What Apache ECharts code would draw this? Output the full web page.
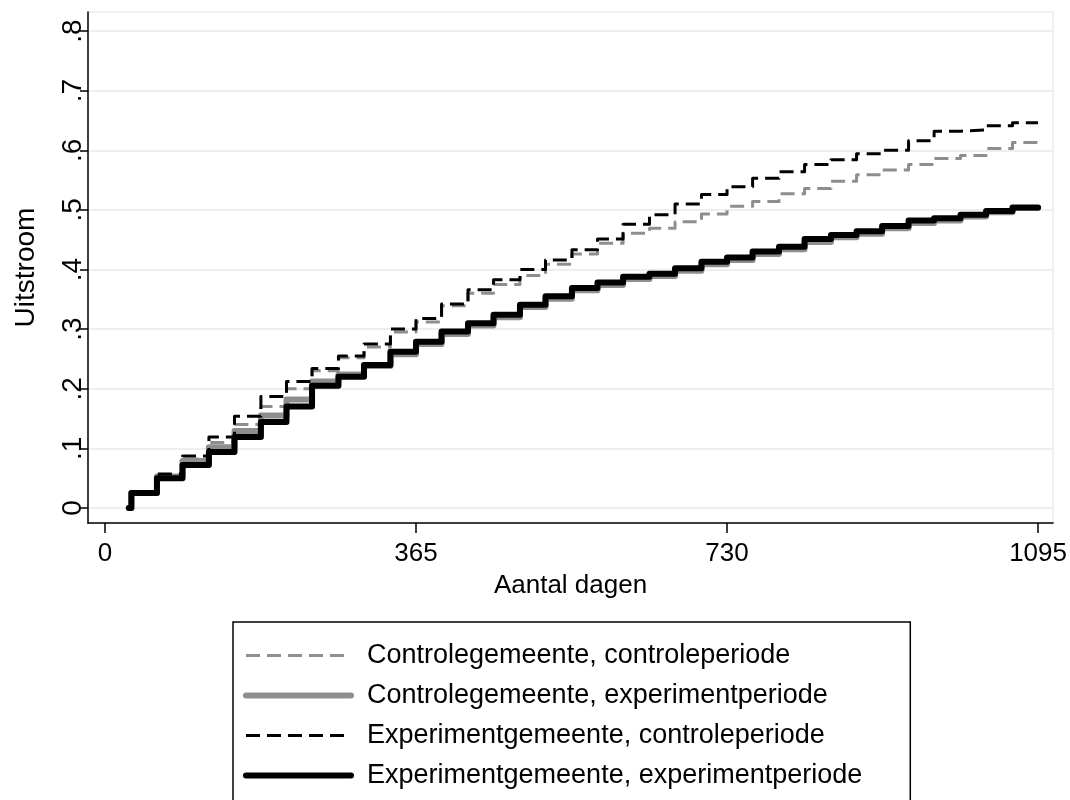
<!DOCTYPE html>
<html>
<head>
<meta charset="utf-8">
<script src="https://cdn.jsdelivr.net/npm/echarts@6/dist/echarts.min.js"></script>
<style>
  html, body { margin: 0; padding: 0; background: #fff; }
  #chart { width: 1070px; height: 800px; }
</style>
</head>
<body>
<div id="chart"></div>
<script>
  // dagen waarop de curves een stap maken (start, maandelijkse stappen, einde)
  var days = [28, 31, 61, 91, 122, 152, 183, 213, 243, 274, 304, 335, 365, 395, 426, 456, 487, 517, 548,
    578, 608, 639, 669, 700, 730, 760, 791, 821, 852, 882, 912, 943, 973, 1004, 1034, 1065, 1095];

  var controleControle = [0, 0.024, 0.053, 0.082, 0.110, 0.140, 0.170, 0.200, 0.230, 0.252, 0.270, 0.295,
    0.312, 0.339, 0.360, 0.375, 0.390, 0.409, 0.426, 0.444, 0.461, 0.469, 0.480, 0.493, 0.506, 0.514,
    0.527, 0.536, 0.548, 0.559, 0.567, 0.576, 0.586, 0.591, 0.603, 0.613, 0.613];
  var controleExperiment = [0, 0.025, 0.053, 0.079, 0.102, 0.129, 0.155, 0.182, 0.212, 0.224, 0.238, 0.258,
    0.275, 0.292, 0.306, 0.320, 0.337, 0.351, 0.365, 0.374, 0.384, 0.389, 0.398, 0.409, 0.416, 0.426,
    0.434, 0.446, 0.454, 0.460, 0.469, 0.478, 0.482, 0.489, 0.496, 0.503, 0.503];
  var experimentControle = [0, 0.025, 0.057, 0.087, 0.119, 0.154, 0.187, 0.212, 0.234, 0.255, 0.275, 0.300,
    0.318, 0.342, 0.366, 0.383, 0.400, 0.416, 0.433, 0.451, 0.476, 0.492, 0.510, 0.526, 0.539, 0.553,
    0.564, 0.576, 0.584, 0.594, 0.600, 0.616, 0.632, 0.634, 0.641, 0.646, 0.646];
  var experimentExperiment = [0, 0.025, 0.050, 0.072, 0.094, 0.119, 0.144, 0.170, 0.205, 0.220, 0.240, 0.262,
    0.279, 0.296, 0.310, 0.324, 0.341, 0.355, 0.369, 0.378, 0.388, 0.393, 0.402, 0.413, 0.420, 0.430,
    0.438, 0.451, 0.458, 0.464, 0.473, 0.482, 0.486, 0.492, 0.498, 0.504, 0.504];

  var xTicks = [0, 365, 730, 1095];
  var yTicks = [0, 0.1, 0.2, 0.3, 0.4, 0.5, 0.6, 0.7, 0.8];

  var names = [
    'Controlegemeente, controleperiode',
    'Controlegemeente, experimentperiode',
    'Experimentgemeente, controleperiode',
    'Experimentgemeente, experimentperiode'
  ];

  var grey = '#8e8e8e';
  var font = '"Liberation Sans", Arial, sans-serif';
  var dash = [14, 7];

  function pairs(vals) {
    return days.map(function (d, i) { return [d, vals[i]]; });
  }

  function makeSeries(name, vals, color, width, dashed) {
    return {
      name: name,
      type: 'line',
      step: 'end',
      symbol: 'none',
      silent: true,
      itemStyle: { color: color },
      lineStyle: {
        color: color,
        width: width,
        type: dashed ? dash : 'solid',
        cap: dashed ? 'butt' : 'round',
        join: 'round'
      },
      data: pairs(vals)
    };
  }

  // legend item: alleen de lijn, geen symbool
  function legendItem(name, color, width, dashed) {
    return {
      name: name,
      itemStyle: { color: 'rgba(0,0,0,0)', borderWidth: 0, opacity: 0 },
      lineStyle: { color: color, width: width, type: dashed ? dash : 'solid' }
    };
  }

  var chart = echarts.init(document.getElementById('chart'), null, { renderer: 'canvas' });

  chart.setOption({
    animation: false,
    backgroundColor: '#fff',
    textStyle: { fontFamily: font },
    grid: {
      left: 88, top: 12, width: 967, height: 511,
      show: true, borderColor: '#e6eef1', borderWidth: 1.5, backgroundColor: '#fff'
    },
    xAxis: {
      type: 'value',
      min: -19.9,
      max: 1112.6,
      name: 'Aantal dagen',
      nameLocation: 'middle',
      nameGap: 50,
      nameTextStyle: { fontSize: 26, color: '#000', fontFamily: font },
      axisLine: { show: true, onZero: false, lineStyle: { color: '#000', width: 1.5 } },
      axisTick: { show: true, length: 10, customValues: xTicks, lineStyle: { color: '#000', width: 1.5 } },
      axisLabel: {
        customValues: xTicks, margin: 18, fontSize: 26, color: '#000', fontFamily: font,
        formatter: function (v) { return String(v); }
      },
      splitLine: { show: false }
    },
    yAxis: {
      type: 'value',
      min: -0.0252,
      max: 0.8319,
      name: 'Uitstroom',
      nameLocation: 'middle',
      nameGap: 48,
      nameTextStyle: { fontSize: 28, color: '#000', fontFamily: font },
      axisLine: { show: true, onZero: false, lineStyle: { color: '#000', width: 1.5 } },
      axisTick: { show: true, length: 8, customValues: yTicks, lineStyle: { color: '#000', width: 1.5 } },
      axisLabel: {
        customValues: yTicks,
        rotate: 90,
        margin: 1,
        fontSize: 28,
        color: '#000',
        fontFamily: font,
        formatter: function (v) {
          return v === 0 ? '0' : v.toFixed(1).replace(/^0/, '');
        }
      },
      splitLine: { show: true, lineStyle: { color: '#e8f0f2', width: 2 } }
    },
    legend: {
      orient: 'vertical',
      left: 233,
      top: 622,
      height: 180,
      padding: [20, 48, 24, 10],
      itemWidth: 105,
      itemHeight: 14,
      itemGap: 13,
      borderColor: '#000',
      borderWidth: 1.5,
      selectedMode: false,
      textStyle: { fontSize: 27, color: '#000', fontFamily: font, padding: [0, 0, 0, 11] },
      data: [
        legendItem(names[0], grey, 3, true),
        legendItem(names[1], grey, 6, false),
        legendItem(names[2], '#000', 3, true),
        legendItem(names[3], '#000', 6, false)
      ]
    },
    series: [
      makeSeries(names[0], controleControle, grey, 3, true),
      makeSeries(names[1], controleExperiment, grey, 6, false),
      makeSeries(names[2], experimentControle, '#000', 3, true),
      makeSeries(names[3], experimentExperiment, '#000', 6, false)
    ]
  });
</script>
</body>
</html>
